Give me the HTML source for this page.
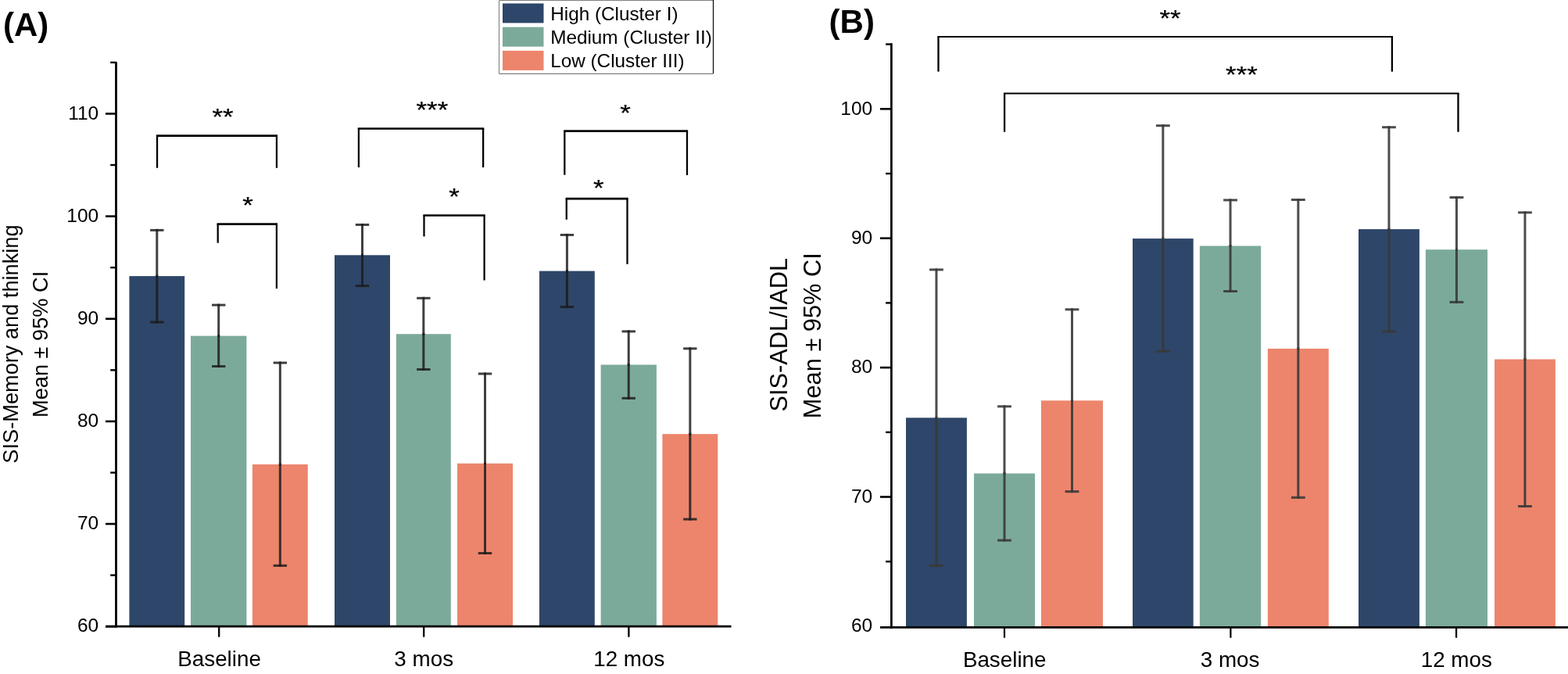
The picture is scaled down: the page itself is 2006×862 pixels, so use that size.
<!DOCTYPE html>
<html><head><meta charset="utf-8"><title>Cluster chart</title>
<style>html,body{margin:0;padding:0;background:#fff;}svg{display:block;}text{font-family:"Liberation Sans",Arial,Helvetica,sans-serif;fill:#000;}</style></head><body>
<svg width="2006" height="862" viewBox="0 0 2006 862">
<rect width="2006" height="862" fill="#fff"/>
<text x="3.9" y="46" font-size="42" font-weight="bold">(A)</text>
<rect x="165.4" y="353.1" width="70.8" height="446.9" fill="#2E4669"/>
<rect x="244" y="429.6" width="71.4" height="370.4" fill="#7BAA9B"/>
<rect x="322.9" y="593.9" width="70.9" height="206.1" fill="#EC856C"/>
<rect x="428" y="326.3" width="71" height="473.7" fill="#2E4669"/>
<rect x="506.9" y="427.2" width="69.9" height="372.8" fill="#7BAA9B"/>
<rect x="585" y="592.7" width="71" height="207.3" fill="#EC856C"/>
<rect x="690" y="346.6" width="70.8" height="453.4" fill="#2E4669"/>
<rect x="768.6" y="466.5" width="71.3" height="333.5" fill="#7BAA9B"/>
<rect x="847.4" y="555.1" width="70.9" height="244.9" fill="#EC856C"/>
<g stroke="rgba(28,28,28,0.84)" stroke-width="3" stroke-linecap="butt" fill="none">
<path d="M200.8 353.1V294.4" stroke-linecap="square"/><path d="M192.1 294.4H209.5"/>
<path d="M200.8 353.1V412" stroke-linecap="square"/><path d="M192.1 412H209.5"/>
</g>
<g stroke="rgba(28,28,28,0.84)" stroke-width="3" stroke-linecap="butt" fill="none">
<path d="M279.7 429.6V390.1" stroke-linecap="square"/><path d="M271 390.1H288.4"/>
<path d="M279.7 429.6V468.5" stroke-linecap="square"/><path d="M271 468.5H288.4"/>
</g>
<g stroke="rgba(28,28,28,0.84)" stroke-width="3" stroke-linecap="butt" fill="none">
<path d="M358.35 593.9V464" stroke-linecap="square"/><path d="M349.65 464H367.05"/>
<path d="M358.35 593.9V723.4" stroke-linecap="square"/><path d="M349.65 723.4H367.05"/>
</g>
<g stroke="rgba(28,28,28,0.84)" stroke-width="3" stroke-linecap="butt" fill="none">
<path d="M463.5 326.3V287.45" stroke-linecap="square"/><path d="M454.8 287.45H472.2"/>
<path d="M463.5 326.3V365.6" stroke-linecap="square"/><path d="M454.8 365.6H472.2"/>
</g>
<g stroke="rgba(28,28,28,0.84)" stroke-width="3" stroke-linecap="butt" fill="none">
<path d="M541.85 427.2V381.3" stroke-linecap="square"/><path d="M533.15 381.3H550.55"/>
<path d="M541.85 427.2V472.45" stroke-linecap="square"/><path d="M533.15 472.45H550.55"/>
</g>
<g stroke="rgba(28,28,28,0.84)" stroke-width="3" stroke-linecap="butt" fill="none">
<path d="M620.5 592.7V478" stroke-linecap="square"/><path d="M611.8 478H629.2"/>
<path d="M620.5 592.7V707.5" stroke-linecap="square"/><path d="M611.8 707.5H629.2"/>
</g>
<g stroke="rgba(28,28,28,0.84)" stroke-width="3" stroke-linecap="butt" fill="none">
<path d="M725.4 346.6V300.45" stroke-linecap="square"/><path d="M716.7 300.45H734.1"/>
<path d="M725.4 346.6V392.55" stroke-linecap="square"/><path d="M716.7 392.55H734.1"/>
</g>
<g stroke="rgba(28,28,28,0.84)" stroke-width="3" stroke-linecap="butt" fill="none">
<path d="M804.25 466.5V423.85" stroke-linecap="square"/><path d="M795.55 423.85H812.95"/>
<path d="M804.25 466.5V509.3" stroke-linecap="square"/><path d="M795.55 509.3H812.95"/>
</g>
<g stroke="rgba(28,28,28,0.84)" stroke-width="3" stroke-linecap="butt" fill="none">
<path d="M882.85 555.1V445.8" stroke-linecap="square"/><path d="M874.15 445.8H891.55"/>
<path d="M882.85 555.1V664.05" stroke-linecap="square"/><path d="M874.15 664.05H891.55"/>
</g>
<g stroke="#000" fill="none">
<path d="M148.5 79.3V802.6" stroke-width="2.8"/>
<path d="M135 801.2H935.5" stroke-width="2.7"/>
<path d="M135 801.2H148.5" stroke-width="2.6"/>
<path d="M135 670.05H148.5" stroke-width="2.6"/>
<path d="M135 538.9H148.5" stroke-width="2.6"/>
<path d="M135 407.75H148.5" stroke-width="2.6"/>
<path d="M135 276.6H148.5" stroke-width="2.6"/>
<path d="M135 145.45H148.5" stroke-width="2.6"/>
<path d="M141.2 735.62H148.5" stroke-width="2.4"/>
<path d="M141.2 604.48H148.5" stroke-width="2.4"/>
<path d="M141.2 473.33H148.5" stroke-width="2.4"/>
<path d="M141.2 342.18H148.5" stroke-width="2.4"/>
<path d="M141.2 211.03H148.5" stroke-width="2.4"/>
<path d="M141.2 79.88H148.5" stroke-width="2.4"/>
<path d="M280.2 801.2V814.7" stroke-width="2.3"/>
<path d="M542.2 801.2V814.7" stroke-width="2.3"/>
<path d="M804.4 801.2V814.7" stroke-width="2.3"/>
</g>
<text x="126.2" y="808.4" font-size="24.5" text-anchor="end">60</text>
<text x="126.2" y="677.25" font-size="24.5" text-anchor="end">70</text>
<text x="126.2" y="546.1" font-size="24.5" text-anchor="end">80</text>
<text x="126.2" y="414.95" font-size="24.5" text-anchor="end">90</text>
<text x="126.2" y="283.8" font-size="24.5" text-anchor="end">100</text>
<text x="126.2" y="152.65" font-size="24.5" text-anchor="end">110</text>
<text x="280.6" y="852.3" font-size="27.8" text-anchor="middle">Baseline</text>
<text x="542.2" y="852.3" font-size="27.8" text-anchor="middle">3 mos</text>
<text x="804.8" y="852.3" font-size="27.8" text-anchor="middle">12 mos</text>
<text transform="translate(23,440) rotate(-90)" font-size="27.2" text-anchor="middle">SIS-Memory and thinking</text>
<text transform="translate(61,440.4) rotate(-90)" font-size="27.2" text-anchor="middle">Mean ± 95% CI</text>
<g stroke="#000" fill="none">
<path d="M199.93 173.6H355.07" stroke-width="2.7"/>
<path d="M201.05 173.6V214.8" stroke-width="2.25"/>
<path d="M353.95 173.6V214.8" stroke-width="2.25"/>
<path d="M277.57 286.65H355.02" stroke-width="2.7"/>
<path d="M278.7 286.65V310.7" stroke-width="2.25"/>
<path d="M353.9 286.65V369.1" stroke-width="2.25"/>
<path d="M457.77 164.5H619.27" stroke-width="2.7"/>
<path d="M458.9 164.5V214.1" stroke-width="2.25"/>
<path d="M618.15 164.5V214.1" stroke-width="2.25"/>
<path d="M541.38 275.5H620.73" stroke-width="2.7"/>
<path d="M542.5 275.5V302.4" stroke-width="2.25"/>
<path d="M619.6 275.5V358.5" stroke-width="2.25"/>
<path d="M721.17 167.65H880.12" stroke-width="2.7"/>
<path d="M722.3 167.65V223.7" stroke-width="2.25"/>
<path d="M879 167.65V224" stroke-width="2.25"/>
<path d="M723.62 254.1H803.62" stroke-width="2.7"/>
<path d="M724.75 254.1V280.8" stroke-width="2.25"/>
<path d="M802.5 254.1V337.8" stroke-width="2.25"/>
</g>
<rect x="638.5" y="0.5" width="274" height="93.9" rx="1" fill="#fff" stroke="#7f7f7f" stroke-width="1.1"/>
<path d="M912.5 0V94" stroke="#000" stroke-width="1.1" fill="none"/>
<rect x="643" y="4.4" width="52.5" height="25" fill="#2E4669"/>
<text x="704.2" y="25.8" font-size="24.3">High (Cluster I)</text>
<rect x="643" y="34.65" width="52.5" height="25" fill="#7BAA9B"/>
<text x="704.2" y="55.95" font-size="24.3">Medium (Cluster II)</text>
<rect x="643" y="64.9" width="52.5" height="25" fill="#EC856C"/>
<text x="704.2" y="86.1" font-size="24.3">Low (Cluster III)</text>
<text x="1060.6" y="42.2" font-size="42" font-weight="bold">(B)</text>
<rect x="1159" y="534.3" width="77.9" height="266.7" fill="#2E4669"/>
<rect x="1246" y="605.5" width="78" height="195.5" fill="#7BAA9B"/>
<rect x="1332" y="512.3" width="79" height="288.7" fill="#EC856C"/>
<rect x="1449" y="305.1" width="77.7" height="495.9" fill="#2E4669"/>
<rect x="1534.9" y="314.5" width="78.3" height="486.5" fill="#7BAA9B"/>
<rect x="1621.9" y="445.9" width="77.9" height="355.1" fill="#EC856C"/>
<rect x="1738" y="293.1" width="77.9" height="507.9" fill="#2E4669"/>
<rect x="1823.9" y="319.2" width="79.1" height="481.8" fill="#7BAA9B"/>
<rect x="1912" y="459.5" width="77.9" height="341.5" fill="#EC856C"/>
<g stroke="rgba(56,56,56,0.9)" stroke-width="3" stroke-linecap="butt" fill="none">
<path d="M1197.95 534.3V344.9" stroke-linecap="square"/><path d="M1189.05 344.9H1206.85"/>
<path d="M1197.95 534.3V723.4" stroke-linecap="square"/><path d="M1189.05 723.4H1206.85"/>
</g>
<g stroke="rgba(56,56,56,0.9)" stroke-width="3" stroke-linecap="butt" fill="none">
<path d="M1285 605.5V519.8" stroke-linecap="square"/><path d="M1276.1 519.8H1293.9"/>
<path d="M1285 605.5V691.05" stroke-linecap="square"/><path d="M1276.1 691.05H1293.9"/>
</g>
<g stroke="rgba(56,56,56,0.9)" stroke-width="3" stroke-linecap="butt" fill="none">
<path d="M1371.5 512.3V395.8" stroke-linecap="square"/><path d="M1362.6 395.8H1380.4"/>
<path d="M1371.5 512.3V628.65" stroke-linecap="square"/><path d="M1362.6 628.65H1380.4"/>
</g>
<g stroke="rgba(56,56,56,0.9)" stroke-width="3" stroke-linecap="butt" fill="none">
<path d="M1487.85 305.1V160.7" stroke-linecap="square"/><path d="M1478.95 160.7H1496.75"/>
<path d="M1487.85 305.1V449.3" stroke-linecap="square"/><path d="M1478.95 449.3H1496.75"/>
</g>
<g stroke="rgba(56,56,56,0.9)" stroke-width="3" stroke-linecap="butt" fill="none">
<path d="M1574.05 314.5V255.9" stroke-linecap="square"/><path d="M1565.15 255.9H1582.95"/>
<path d="M1574.05 314.5V372.5" stroke-linecap="square"/><path d="M1565.15 372.5H1582.95"/>
</g>
<g stroke="rgba(56,56,56,0.9)" stroke-width="3" stroke-linecap="butt" fill="none">
<path d="M1660.85 445.9V255.5" stroke-linecap="square"/><path d="M1651.95 255.5H1669.75"/>
<path d="M1660.85 445.9V636.3" stroke-linecap="square"/><path d="M1651.95 636.3H1669.75"/>
</g>
<g stroke="rgba(56,56,56,0.9)" stroke-width="3" stroke-linecap="butt" fill="none">
<path d="M1776.95 293.1V162.75" stroke-linecap="square"/><path d="M1768.05 162.75H1785.85"/>
<path d="M1776.95 293.1V423.9" stroke-linecap="square"/><path d="M1768.05 423.9H1785.85"/>
</g>
<g stroke="rgba(56,56,56,0.9)" stroke-width="3" stroke-linecap="butt" fill="none">
<path d="M1863.45 319.2V252.5" stroke-linecap="square"/><path d="M1854.55 252.5H1872.35"/>
<path d="M1863.45 319.2V386.4" stroke-linecap="square"/><path d="M1854.55 386.4H1872.35"/>
</g>
<g stroke="rgba(56,56,56,0.9)" stroke-width="3" stroke-linecap="butt" fill="none">
<path d="M1950.95 459.5V271.8" stroke-linecap="square"/><path d="M1942.05 271.8H1959.85"/>
<path d="M1950.95 459.5V647.5" stroke-linecap="square"/><path d="M1942.05 647.5H1959.85"/>
</g>
<g stroke="#000" fill="none">
<path d="M1140.4 55.2V803.8" stroke-width="2.7"/>
<path d="M1126 802.4H2006" stroke-width="2.8"/>
<path d="M1126 635.5H1140.4" stroke-width="2.6"/>
<path d="M1126 470.1H1140.4" stroke-width="2.6"/>
<path d="M1126 304.7H1140.4" stroke-width="2.6"/>
<path d="M1126 139.3H1140.4" stroke-width="2.6"/>
<path d="M1133.1 718.2H1140.4" stroke-width="2.4"/>
<path d="M1133.1 552.8H1140.4" stroke-width="2.4"/>
<path d="M1133.1 387.4H1140.4" stroke-width="2.4"/>
<path d="M1133.1 222H1140.4" stroke-width="2.4"/>
<path d="M1133.1 56.6H1140.4" stroke-width="2.4"/>
<path d="M1285 802.4V815.7" stroke-width="2.2"/>
<path d="M1574.4 802.4V815.7" stroke-width="2.2"/>
<path d="M1863.1 802.4V815.7" stroke-width="2.2"/>
</g>
<text x="1116.2" y="808.1" font-size="24.5" text-anchor="end">60</text>
<text x="1116.2" y="642.7" font-size="24.5" text-anchor="end">70</text>
<text x="1116.2" y="477.3" font-size="24.5" text-anchor="end">80</text>
<text x="1116.2" y="311.9" font-size="24.5" text-anchor="end">90</text>
<text x="1116.2" y="146.5" font-size="24.5" text-anchor="end">100</text>
<text x="1285.2" y="852.8" font-size="27.8" text-anchor="middle">Baseline</text>
<text x="1573.6" y="852.8" font-size="27.8" text-anchor="middle">3 mos</text>
<text x="1863.3" y="852.8" font-size="27.8" text-anchor="middle">12 mos</text>
<text transform="translate(1007,428.2) rotate(-90)" font-size="30.8" text-anchor="middle">SIS-ADL/IADL</text>
<text transform="translate(1050,429.2) rotate(-90)" font-size="30.8" text-anchor="middle">Mean ± 95% CI</text>
<g stroke="#000" fill="none">
<path d="M1199.35 47H1782.05" stroke-width="2.1"/>
<path d="M1200.5 47V91.6" stroke-width="2.3"/>
<path d="M1780.9 47V91.6" stroke-width="2.3"/>
<path d="M1283.95 119.5H1866.65" stroke-width="2.1"/>
<path d="M1285.1 119.5V168.7" stroke-width="2.3"/>
<path d="M1865.5 119.5V168.7" stroke-width="2.3"/>
</g>
<text x="0" y="0" font-size="36" text-anchor="middle" stroke="#000" stroke-width="0.3" transform="translate(284.97 158.53) scale(0.97 0.82)">**</text>
<text x="0" y="0" font-size="36" text-anchor="middle" stroke="#000" stroke-width="0.3" transform="translate(316.96 271.91) scale(0.97 0.82)">*</text>
<text x="0" y="0" font-size="36" text-anchor="middle" stroke="#000" stroke-width="0.3" transform="translate(552.85 149.73) scale(0.97 0.82)">***</text>
<text x="0" y="0" font-size="36" text-anchor="middle" stroke="#000" stroke-width="0.3" transform="translate(580.96 260.81) scale(0.97 0.82)">*</text>
<text x="0" y="0" font-size="36" text-anchor="middle" stroke="#000" stroke-width="0.3" transform="translate(799.96 153.81) scale(0.97 0.82)">*</text>
<text x="0" y="0" font-size="36" text-anchor="middle" stroke="#000" stroke-width="0.3" transform="translate(765.9 249.75) scale(0.97 0.82)">*</text>
<text x="0" y="0" font-size="36" text-anchor="middle" stroke="#000" stroke-width="0.3" transform="translate(1496.97 32.83) scale(0.97 0.82)">**</text>
<text x="0" y="0" font-size="36" text-anchor="middle" stroke="#000" stroke-width="0.3" transform="translate(1588.5 104.74) scale(0.97 0.82)">***</text>
</svg></body></html>
